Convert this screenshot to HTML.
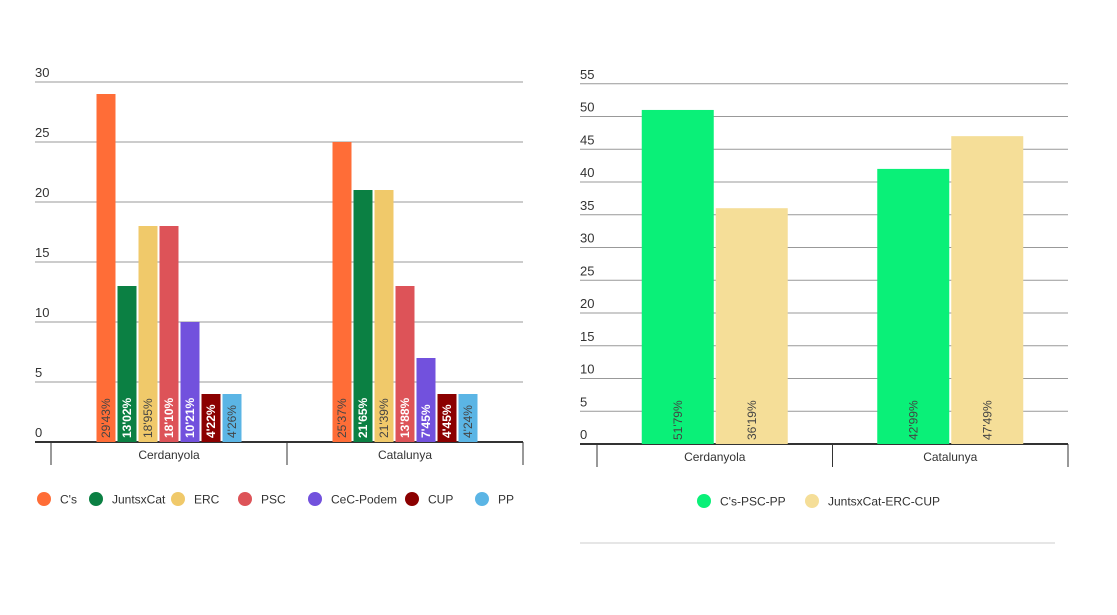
<!DOCTYPE html>
<html><head><meta charset="utf-8"><style>
body{margin:0;background:#fff;font-family:"Liberation Sans",sans-serif}
svg text{font-family:"Liberation Sans",sans-serif}
</style></head><body>
<svg width="1117" height="610" id="s">
<line x1="580" y1="543" x2="1055" y2="543" stroke="#e6e6e6" stroke-width="2"/>
</svg>
<script>
const NS='http://www.w3.org/2000/svg';
const svg=document.getElementById('s');
// Left chart data
const leftCats=['Cerdanyola','Catalunya'];
const leftSeries=['C\'s','JuntsxCat','ERC','PSC','CeC-Podem','CUP','PP'];
const leftColors=['#ff6d37','#0b8043','#f0c96a','#dd5358','#7251dd','#8b0000','#5bb5e5'];
const leftValues=[[29,13,18,18,10,4,4],[25,21,21,13,7,4,4]];
const leftLabels=[['29\'43%','13\'02%','18\'95%','18\'10%','10\'21%','4\'22%','4\'26%'],['25\'37%','21\'65%','21\'39%','13\'88%','7\'45%','4\'45%','4\'24%']];
const leftLabelWhite=[[0,1,0,1,1,1,0],[0,1,0,1,1,1,0]];
const leftTicks=[0,5,10,15,20,25,30];
// Right chart data
const rightCats=['Cerdanyola','Catalunya'];
const rightSeries=['C\'s-PSC-PP','JuntsxCat-ERC-CUP'];
const rightColors=['#0af078','#f5de98'];
const rightValues=[[51,36],[42,47]];
const rightLabels=[['51\'79%','36\'19%'],['42\'99%','47\'49%']];
const rightTicks=[0,5,10,15,20,25,30,35,40,45,50,55];

function el(t,a,txt){const e=document.createElementNS(NS,t);for(const k in a)e.setAttribute(k,a[k]);if(txt!==undefined)e.textContent=txt;svg.appendChild(e);return e;}

function chart(o){
  const y=v=>o.base-v*o.ppu;
  o.ticks.forEach(t=>{
    const g=el('line',{x1:o.x0,x2:o.x1,y1:y(t),y2:y(t),stroke:t===0?'#333':'#999','stroke-width':t===0?2:1});
    
    
    const tl=el('text',{x:o.x0,y:y(t)-5,'font-size':13,fill:'#333'},String(t));
    
    
  });
  const n=o.cats.length, gw=(o.ax1-o.ax0)/n;
  for(let i=0;i<=n;i++){
    const tk=el('line',{x1:o.ax0+i*gw,x2:o.ax0+i*gw,y1:o.base,y2:o.base+23,stroke:'#333','stroke-width':1});
    
    
  }
  o.cats.forEach((c,i)=>{
    const cx=o.ax0+gw*(i+0.5);
    const cl=el('text',{x:cx,y:o.base+17,'font-size':12,fill:'#333','text-anchor':'middle'},c);
    
    
    const m=o.series.length, tot=m*o.bw+(m-1)*o.gap, sx=cx-tot/2;
    o.values[i].forEach((v,j)=>{
      const bx=sx+j*(o.bw+o.gap);
      const r=el('rect',{x:bx,y:y(v),width:o.bw,height:v*o.ppu,fill:o.colors[j]});
      
      
      const w=o.white&&o.white[i][j];
      const tx=bx+o.bw/2+4, ty=o.base-4;
      const t=el('text',{x:tx,y:ty,'font-size':12,fill:w?'#fff':'#444','font-weight':w?'bold':'normal',transform:`rotate(-90 ${tx} ${ty})`},o.labels[i][j]);
      
      
    });
  });
  let lx=o.legX;
  o.series.forEach((s,j)=>{
    const c=el('circle',{cx:lx,cy:o.legY,r:7,fill:o.colors[j]});
    
    
    const t=el('text',{x:lx+16,y:o.legY+4.5,'font-size':12,fill:'#333'},s);
    
    
    lx+=o.legStep[j];
  });
}
chart({x0:35,x1:523,ax0:51,ax1:523,base:442,ppu:12,ticks:leftTicks,cats:leftCats,series:leftSeries,colors:leftColors,values:leftValues,labels:leftLabels,white:leftLabelWhite,bw:19,gap:2,legX:44,legY:499,legStep:[52,82,67,70,97,70,60]});
chart({x0:580,x1:1068,ax0:597,ax1:1068,base:444,ppu:6.55,ticks:rightTicks,cats:rightCats,series:rightSeries,colors:rightColors,values:rightValues,labels:rightLabels,bw:72,gap:2,legX:704,legY:501,legStep:[108,0]});
</script>
</body></html>
